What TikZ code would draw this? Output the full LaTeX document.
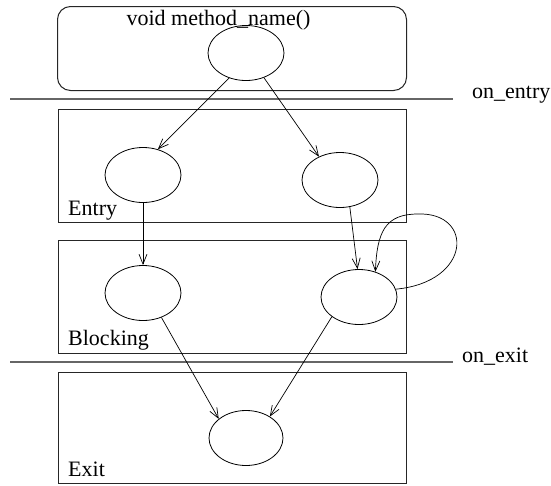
\documentclass[tikz,border=0pt]{standalone}
\usepackage{fontspec}
\setmainfont{Liberation Serif}
\usetikzlibrary{shapes.geometric,arrows.meta}
\begin{document}
\begin{tikzpicture}[x=1pt,y=-1pt,
  state/.style={draw,ellipse,minimum width=76pt,minimum height=55pt,inner sep=0pt,line width=0.8pt},
  region/.style={draw=black!85,line width=1pt},
  divider/.style={draw=black!60,line width=1.4pt},
  lbl/.style={anchor=base west,inner sep=0pt,font=\fontsize{22}{26}\selectfont},
  arr/.style={-{Straight Barb[length=10pt,width=8pt]},line width=0.7pt}]
\useasboundingbox (0,0) rectangle (551,485);

% enclosing method and state regions
\draw[region,rounded corners=13pt] (57.5,6.5) rectangle (406.5,90.5);
\draw[region] (58.5,109.5) rectangle (406.5,222.5);
\draw[region] (58.5,240.5) rectangle (406.5,353.5);
\draw[region] (58.5,372.5) rectangle (406.5,483.5);

% entry / exit dividers
\draw[divider] (10,99) -- (453,99);
\draw[divider] (10,362) -- (453,362);

% texts
\node[anchor=base,inner sep=0pt,font=\fontsize{22}{26}\selectfont] (title) at (218.5,25) {void method\_name()};
\node[lbl] (lentry) at (472,98) {on\_entry};
\node[lbl] (lexit) at (462,362) {on\_exit};
\node[lbl] (entry) at (68,215) {Entry};
\node[lbl] (blocking) at (68,345) {Blocking};
\node[lbl] (exit) at (68,476) {Exit};

% states
\node[state] (top) at (246,53) {};
\node[state] (e1) at (143,175) {};
\node[state] (e2) at (340,180) {};
\node[state] (b1) at (143,293) {};
\node[state] (b2) at (359,297) {};
\node[state,minimum width=74pt] (x) at (246,438) {};

% transitions
\draw[arr] (top.236) -- (e1.60);
\draw[arr] (top.306) -- (e2.132);
\draw[arr] (e1.south) -- (b1.north);
\draw[arr] (e2.290) -- (b2.93);
\draw[arr] (b2.12) .. controls (472,282) and (474,212) .. (418,214)
                   .. controls (385,214) and (377,232) .. (b2.57);
\draw[arr] (b1.307) -- (x.145);
\draw[arr] (b2.216) -- (x.42);
\end{tikzpicture}
\end{document}
